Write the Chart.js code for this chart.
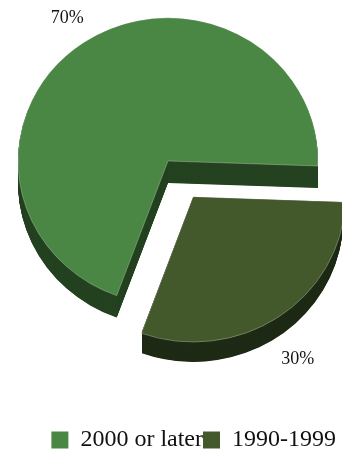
<!DOCTYPE html>
<html>
<head>
<meta charset="utf-8">
<script src="https://cdn.jsdelivr.net/npm/chart.js@4.4.0/dist/chart.umd.min.js"></script>
<style>
  html, body { margin: 0; padding: 0; background: #ffffff; }
  #wrap { width: 342px; height: 450px; position: relative; }
</style>
</head>
<body>
<div id="wrap"><canvas id="c"></canvas></div>
<script>
const categories = ['2000 or later', '1990-1999'];
const seriesValues = [70, 30];
const valueLabels = ['70%', '30%'];
const faceColors = ['#4b8744', '#43592c'];
const sideColors = ['#254321', '#1f2b16'];
const explode = [0, 180];   // Chart.js draws offset/4 px -> 45 px

const TILT = 0.955;   // vertical squash of the pie
const DEPTH = 22;     // 3D thickness in px

function arcOffset(arc) { return (arc.options.offset || 0) / 4; }

const pie3d = {
  id: 'pie3d',
  beforeDatasetsDraw(chart) {
    const meta = chart.getDatasetMeta(0);
    const ctx = chart.ctx;
    const a0 = meta.data[0];
    const cx = a0.x, cy = a0.y;
    ctx.save();
    ctx.translate(cx, cy);
    ctx.scale(1, TILT);
    ctx.translate(-cx, -cy);
    for (let d = DEPTH / TILT; d >= 0.5; d -= 0.5) {
      meta.data.forEach((arc, i) => {
        const p = arc.getProps(['x', 'y', 'startAngle', 'endAngle', 'outerRadius'], true);
        const off = arcOffset(arc);
        const mid = (p.startAngle + p.endAngle) / 2;
        const ox = p.x + Math.cos(mid) * off;
        const oy = p.y + Math.sin(mid) * off + d;
        ctx.beginPath();
        ctx.moveTo(ox, oy);
        ctx.arc(ox, oy, p.outerRadius, p.startAngle, p.endAngle);
        ctx.closePath();
        ctx.fillStyle = sideColors[i];
        ctx.fill();
      });
    }
  },
  afterDatasetsDraw(chart) {
    chart.ctx.restore();
    const meta = chart.getDatasetMeta(0);
    const ctx = chart.ctx;
    ctx.save();
    ctx.font = '18px "Liberation Serif", "Times New Roman", serif';
    ctx.fillStyle = '#141414';
    ctx.textAlign = 'center';
    ctx.textBaseline = 'middle';
    meta.data.forEach((arc, i) => {
      const p = arc.getProps(['x', 'y', 'startAngle', 'endAngle', 'outerRadius'], true);
      const off = arcOffset(arc);
      const mid = (p.startAngle + p.endAngle) / 2;
      const R = p.outerRadius + 30;
      const lx = p.x + Math.cos(mid) * (off + R);
      let ly = p.y + Math.sin(mid) * (off + R) * TILT;
      if (Math.sin(mid) > 0) ly += DEPTH * 0.9;
      ctx.fillText(valueLabels[i], lx + (Math.cos(mid) > 0 ? 4 : 0), ly);
    });
    ctx.restore();
  }
};

new Chart(document.getElementById('c'), {
  type: 'pie',
  data: {
    labels: categories,
    datasets: [{
      data: seriesValues,
      backgroundColor: faceColors,
      borderColor: 'rgba(255,255,255,0.35)',
      borderWidth: 0.8,
      offset: explode,
      radius: 150,
      clip: false
    }]
  },
  options: {
    responsive: true,
    maintainAspectRatio: false,
    animation: false,
    rotation: 200,
    layout: { padding: { top: 0, right: 6, left: 0, bottom: 0 } },
    plugins: {
      tooltip: { enabled: false },
      legend: {
        position: 'bottom',
        align: 'end',
        maxHeight: 128,
        title: {
          display: true,
          text: ' ',
          font: { size: 10, lineHeight: 1 },
          padding: { top: 0, bottom: 96 }
        },
        labels: {
          boxWidth: 17,
          boxHeight: 17,
          padding: 0,
          color: '#111111',
          font: { family: '"Liberation Serif", "Times New Roman", serif', size: 24, lineHeight: 1 },
          generateLabels(chart) {
            const items = Chart.controllers.pie.overrides.plugins.legend.labels.generateLabels(chart);
            items.forEach(it => { it.lineWidth = 0; it.strokeStyle = 'rgba(0,0,0,0)'; });
            return items;
          }
        }
      }
    }
  },
  plugins: [pie3d]
});
</script>
</body>
</html>
